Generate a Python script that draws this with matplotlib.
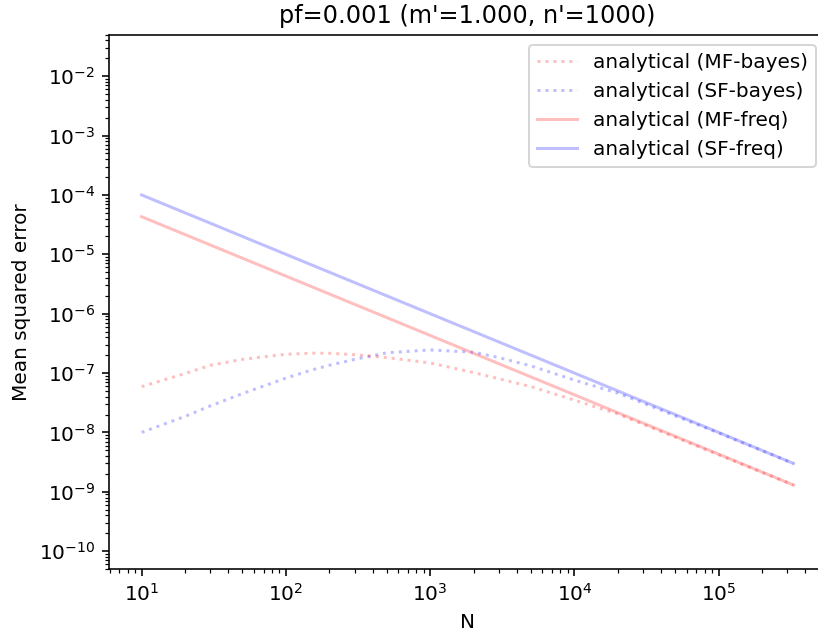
import matplotlib

matplotlib.use("Agg")
import matplotlib.pyplot as plt
from matplotlib.ticker import LogLocator


# ----------------------------
# DATA
# ----------------------------
N_VALUES = [10, 20, 30, 50, 100, 150, 200, 300, 500, 1000, 2000, 3000,
            5000, 10000, 20000, 50000, 100000, 330000]

MF_BAYES = [5.9e-8, 9.8e-8, 1.35e-7, 1.7e-7, 2.07e-7, 2.16e-7, 2.15e-7,
            2.04e-7, 1.82e-7, 1.48e-7, 1.02e-7, 8.0e-8, 5.9e-8, 3.5e-8,
            2.04e-8, 8.3e-9, 4.2e-9, 1.3e-9]
SF_BAYES = [1.0e-8, 1.86e-8, 2.8e-8, 4.5e-8, 8.2e-8, 1.12e-7, 1.35e-7,
            1.7e-7, 2.19e-7, 2.45e-7, 2.24e-7, 1.82e-7, 1.32e-7, 7.6e-8,
            4.6e-8, 1.9e-8, 9.8e-9, 3.0e-9]

N_FREQ = [10, 100, 1000, 10000, 100000, 330000]
MF_FREQ = [4.3e-5, 4.3e-6, 4.3e-7, 4.3e-8, 4.3e-9, 1.3e-9]
SF_FREQ = [1.0e-4, 1.0e-5, 1.0e-6, 1.0e-7, 1.0e-8, 3.0e-9]

TITLE = "pf=0.001 (m'=1.000, n'=1000)"


def main() -> None:
    dpi = 144
    fig = plt.figure(figsize=(818 / dpi, 636 / dpi), dpi=dpi)
    # the original was cropped: the right spine lies just past the image edge
    ax = fig.add_axes([109 / 818, 67 / 636, 717 / 818, 534.3 / 636])

    ax.plot(N_VALUES, MF_BAYES, ":", color="r", alpha=0.25, label="analytical (MF-bayes)")
    ax.plot(N_VALUES, SF_BAYES, ":", color="b", alpha=0.25, label="analytical (SF-bayes)")
    ax.plot(N_FREQ, MF_FREQ, "-", color="r", alpha=0.25, label="analytical (MF-freq)")
    ax.plot(N_FREQ, SF_FREQ, "-", color="b", alpha=0.25, label="analytical (SF-freq)")

    ax.set_xscale("log")
    ax.set_yscale("log")
    ax.set_ylim(5e-11, 5e-2)
    ax.yaxis.set_major_locator(LogLocator(base=10, numticks=20))
    ax.yaxis.set_minor_locator(LogLocator(base=10, subs=range(2, 10), numticks=20))

    ax.set_xlabel("N")
    ax.set_ylabel("Mean squared error")
    ax.set_title(TITLE)
    ax.legend(loc="upper right")

    fig.savefig("out.png", dpi=dpi)
    plt.close(fig)


if __name__ == "__main__":
    main()
